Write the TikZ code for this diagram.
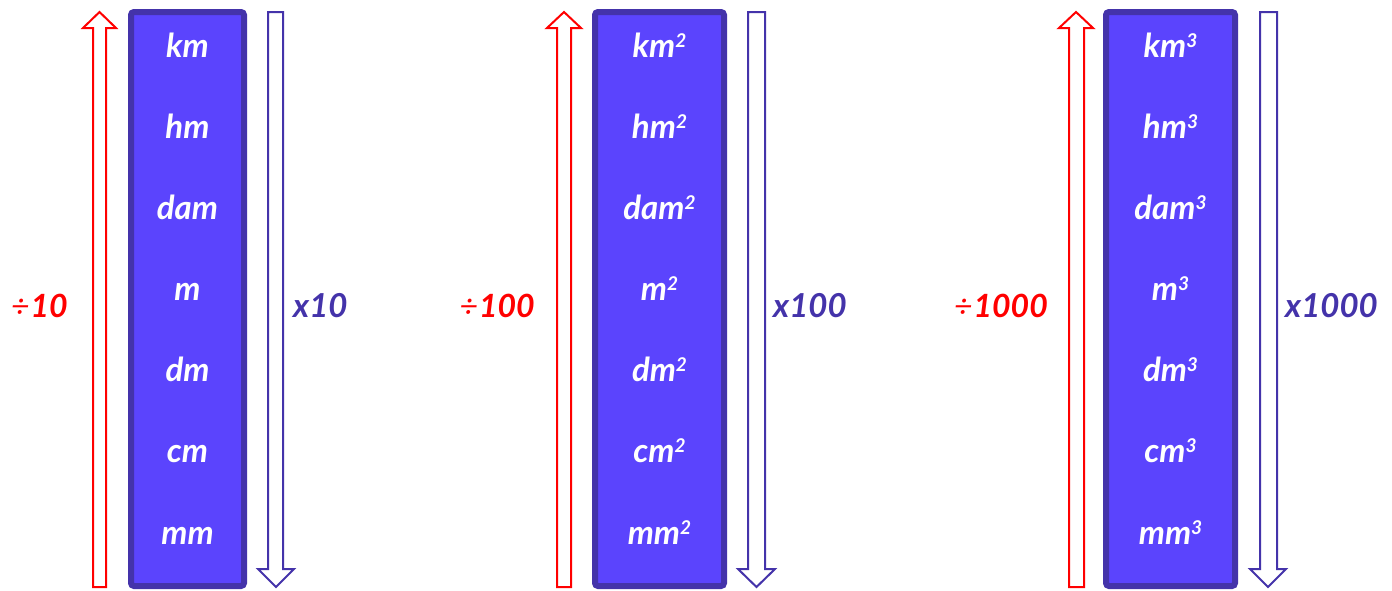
\documentclass[tikz,border=0pt]{standalone}
\usepackage{fontspec}
\setmainfont{Lato}
\definecolor{boxfill}{HTML}{5B44FD}
\definecolor{boxedge}{HTML}{4433AA}
\definecolor{upred}{HTML}{FF0000}
\newcommand{\pw}[1]{\raisebox{10pt}{\fontsize{19}{19}\selectfont #1}}
\begin{document}
\begin{tikzpicture}[x=1pt,y=-1pt,
  unitbox/.style={draw=boxedge,fill=boxfill,line width=6pt,rounded corners=3pt},
  unittext/.style={text=white,font=\fontsize{33}{34}\selectfont\bfseries\itshape,anchor=base,inner sep=0pt},
  uparrow/.style={draw=upred,line width=2pt,fill=white},
  downarrow/.style={draw=boxedge,line width=2pt,fill=white},
  divlabel/.style={text=upred,font=\fontsize{32}{32}\selectfont\bfseries\itshape,anchor=base east,inner sep=0pt},
  mullabel/.style={text=boxedge,font=\fontsize{33}{33}\selectfont\bfseries\itshape,anchor=base west,inner sep=0pt}]
\useasboundingbox (0,0) rectangle (1392,590);
% column boxes
\draw[unitbox] (131,12) rectangle (244,586);
\draw[unitbox] (595,12) rectangle (724,586);
\draw[unitbox] (1106,12) rectangle (1235,586);
% arrows
\draw[uparrow] (93,587) -- (93,28) -- (83,28) -- (99.5,12) -- (116,28) -- (106,28) -- (106,587) -- cycle;
\draw[downarrow] (268,12) -- (268,569) -- (258,569) -- (276,587) -- (294,569) -- (283,569) -- (283,12) -- cycle;
\draw[uparrow] (557,587) -- (557,28) -- (547,28) -- (564,12) -- (581,28) -- (571,28) -- (571,587) -- cycle;
\draw[downarrow] (748,12) -- (748,569) -- (738,569) -- (756.5,587) -- (775,569) -- (765,569) -- (765,12) -- cycle;
\draw[uparrow] (1069,587) -- (1069,28) -- (1059,28) -- (1076,12) -- (1093,28) -- (1084,28) -- (1084,587) -- cycle;
\draw[downarrow] (1260,12) -- (1260,569) -- (1250,569) -- (1268,587) -- (1286,569) -- (1277,569) -- (1277,12) -- cycle;
% unit texts
\foreach \u [count=\i from 0] in {km,hm,dam,m,dm,cm,mm}{
  \node[unittext] (a\i) at (187.5,57+81.17*\i) {\u};
  \node[unittext] (b\i) at (659.5,57+81.17*\i) {\u\pw{2}};
  \node[unittext] (c\i) at (1170.5,57+81.17*\i) {\u\pw{3}};
}
% labels
\node[divlabel] (d1) at (68,317) {{\mdseries ÷}\kern1pt 10};
\node[mullabel] (m1) at (293,317) {x10};
\node[divlabel] (d2) at (535,317) {{\mdseries ÷}\kern1pt 100};
\node[mullabel] (m2) at (773,317) {x100};
\node[divlabel] (d3) at (1048,317) {{\mdseries ÷}\kern1pt 1000};
\node[mullabel] (m3) at (1285,317) {x1000};
\end{tikzpicture}
\end{document}
